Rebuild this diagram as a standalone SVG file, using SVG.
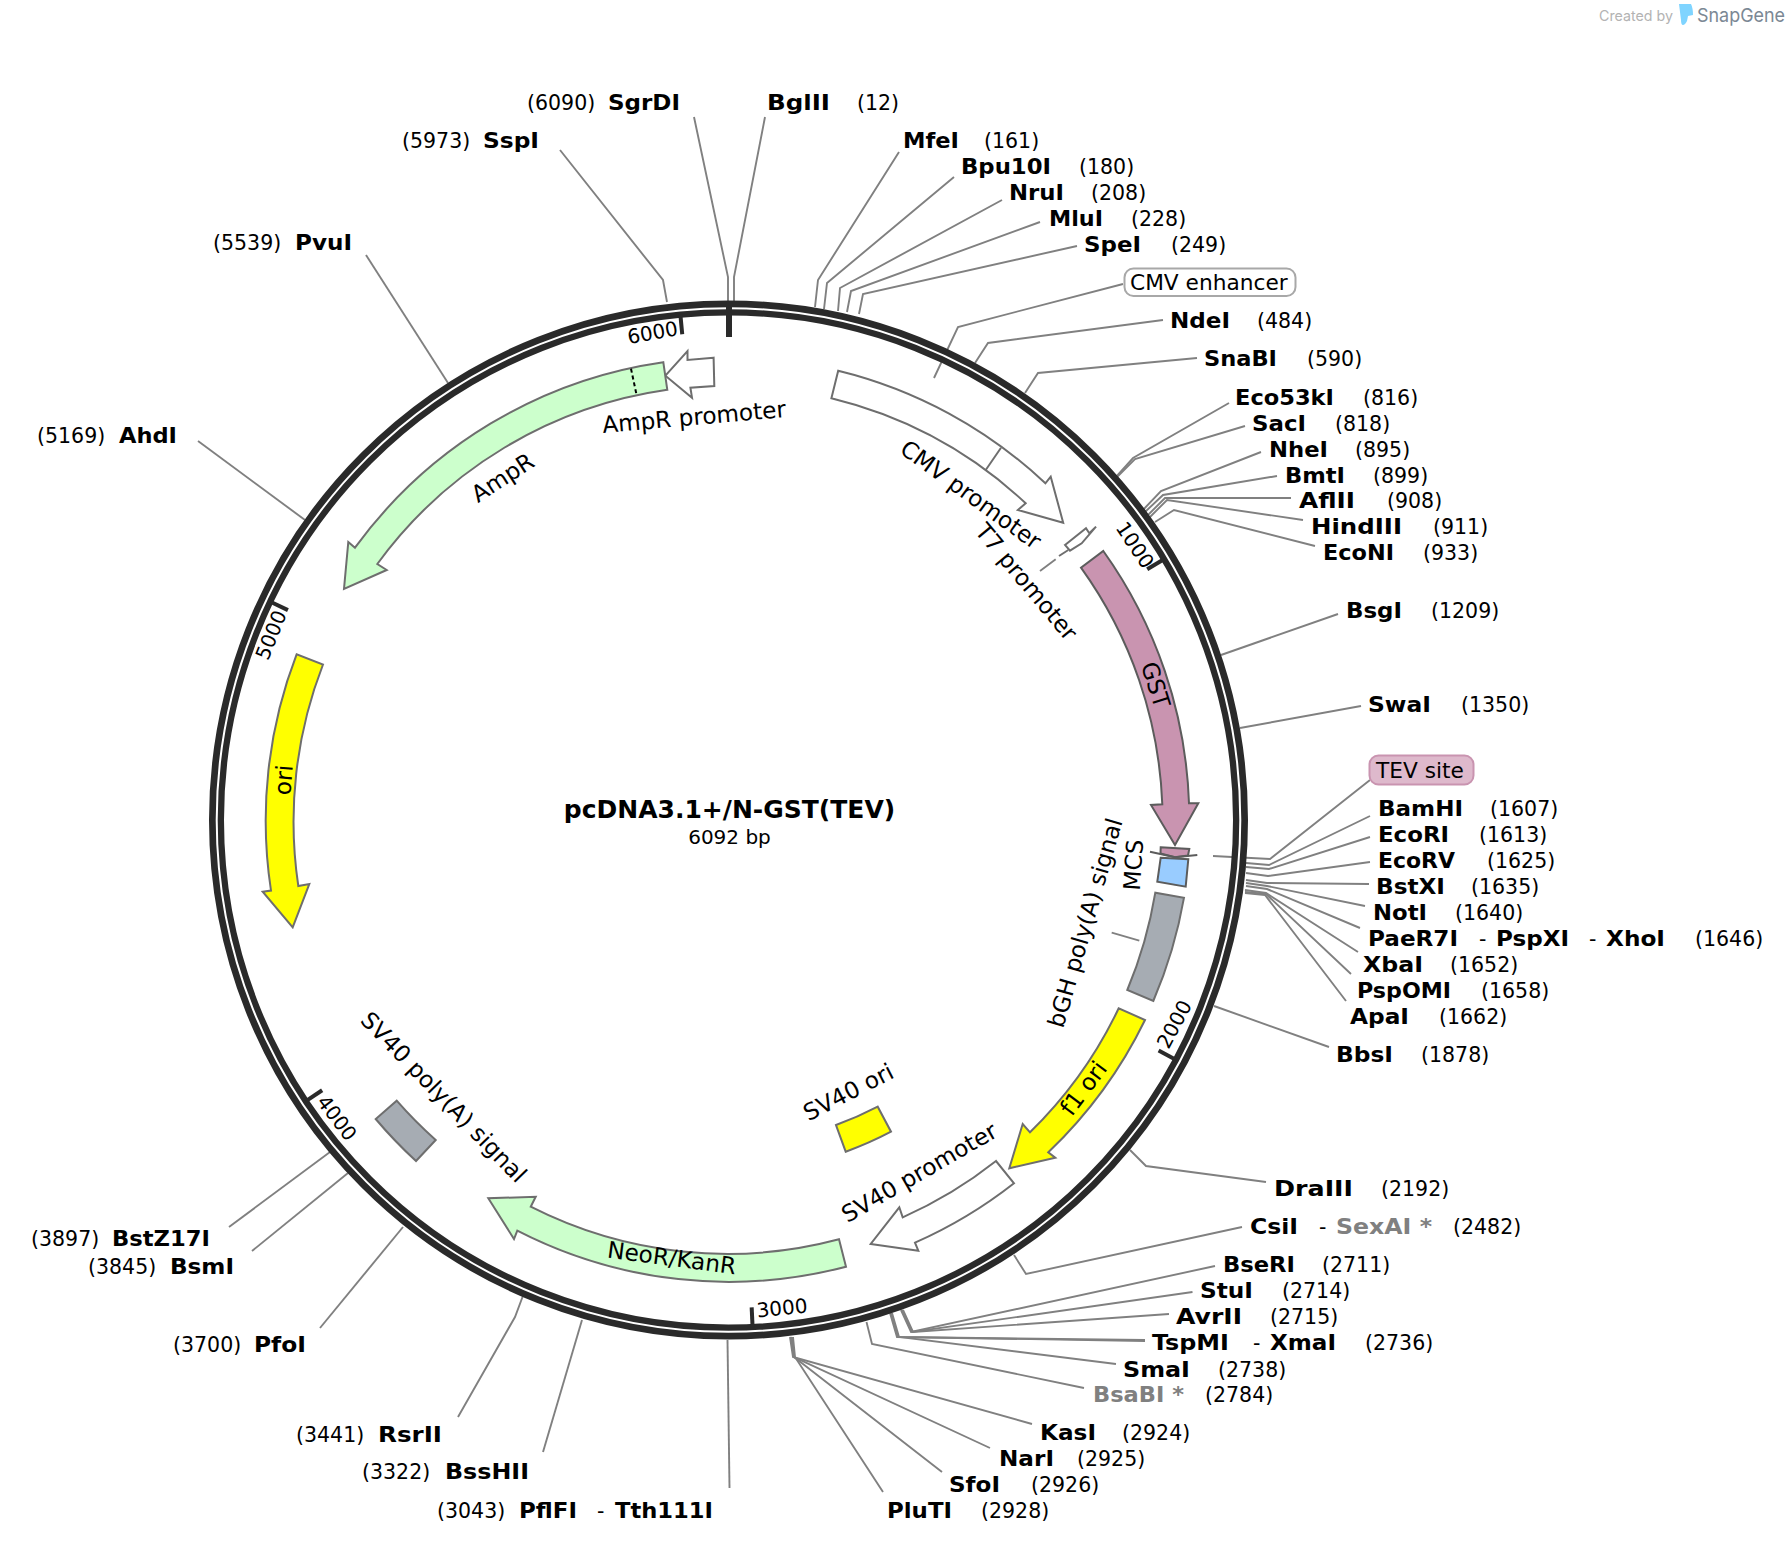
<svg xmlns="http://www.w3.org/2000/svg" width="1792" height="1544" viewBox="0 0 1792 1544">
<style>
text{font-family:"DejaVu Sans","Liberation Sans",sans-serif;fill:#000}
.e{font-weight:700;font-size:21.5px}
.g{fill:#808080}
.p{font-size:20.5px}
.f{font-size:23.2px;text-anchor:middle}
.b{font-size:21.7px}
.t{font-size:20px;text-anchor:middle}
.c polyline,.c line{fill:none;stroke:#808080;stroke-width:1.9}
.s{stroke:#6e6e6e;stroke-width:2;stroke-linejoin:miter}
.d{stroke:#5c5c5c}
.k{stroke:#2a2a2a;fill:none}
</style>
<rect width="1792" height="1544" fill="#fff"/>
<g id="connectors" class="c">
<polyline points="694,117 728,277 728,302"/>
<polyline points="765,117 734,277 734,302"/>
<polyline points="560,150 663,280 667,302"/>
<line x1="366" y1="255" x2="448" y2="383"/>
<line x1="198" y1="441" x2="305" y2="520"/>
<polyline points="899,152 818,280 815,307"/>
<polyline points="954,177 827,283 824,309"/>
<polyline points="1002,200 840,288 838,311"/>
<polyline points="1040,222 851,291 847,312"/>
<polyline points="1077,246 863,294 859,314"/>
<polyline points="1123,284 958,327 934,378"/>
<polyline points="1163,320 988,343 975,363"/>
<polyline points="1197,358 1038,373 1025,393"/>
<polyline points="1229,403 1133,458 1116,477"/>
<polyline points="1245,426 1135,459 1117,477"/>
<polyline points="1261,452 1161,491 1143,510"/>
<polyline points="1277,476 1163,495 1145,512"/>
<polyline points="1291,498 1165,498 1147,516"/>
<polyline points="1303,520 1167,500 1149,518"/>
<polyline points="1315,546 1174,510 1155,522"/>
<line x1="1338" y1="614" x2="1221" y2="655"/>
<line x1="1361" y1="706" x2="1240" y2="728"/>
<polyline points="1370,780 1270,859 1213,856"/>
<polyline points="1370,816 1269,865 1246,863"/>
<polyline points="1370,837 1269,869 1246,867"/>
<polyline points="1370,862 1268,876 1246,873"/>
<polyline points="1369,884 1267,883 1246,880"/>
<polyline points="1365,906 1267,886 1246,883"/>
<polyline points="1360,928 1267,889 1246,886"/>
<polyline points="1358,952 1266,893 1245,890"/>
<polyline points="1351,974 1266,894 1245,892"/>
<polyline points="1346,1001 1265,895 1245,893"/>
<line x1="1329" y1="1047" x2="1214" y2="1006"/>
<polyline points="1266,1182 1146,1166 1130,1150"/>
<polyline points="1242,1227 1026,1274 1014,1255"/>
<polyline points="1215,1266 911,1332 901,1310"/>
<polyline points="1192.5,1292 912,1332 902,1310"/>
<polyline points="1169,1314 913,1332 903,1310"/>
<polyline points="1145,1340 897,1337 890,1313"/>
<polyline points="1145,1341 898,1337 891,1313"/>
<polyline points="1116,1364 899,1337 892,1313"/>
<polyline points="1084,1388 872,1344 866.5,1322"/>
<polyline points="1032,1424 793,1357 790,1337"/>
<polyline points="990,1448 794,1357 791,1337"/>
<polyline points="942,1472 794,1357 792,1337"/>
<polyline points="883,1492 795,1357 793,1337"/>
<line x1="229" y1="1227" x2="330" y2="1152"/>
<line x1="252" y1="1251" x2="348" y2="1173"/>
<line x1="320" y1="1328" x2="403" y2="1227"/>
<polyline points="458,1417 515,1317 522.5,1297"/>
<line x1="543" y1="1452" x2="582" y2="1320"/>
<line x1="729.5" y1="1488" x2="727.5" y2="1340"/>
<line x1="1111.7" y1="932.7" x2="1139.3" y2="940.7"/>
<line x1="1055.7" y1="559.3" x2="1040" y2="571"/>
</g>

<g id="backbone">
<circle class="k" cx="728.5" cy="820" r="512" stroke-width="15"/>
<circle cx="728.5" cy="820" r="511.8" fill="none" stroke="#fff" stroke-width="2"/>
<line class="k" x1="729" y1="306" x2="729" y2="337" stroke-width="6"/>
<g class="k" stroke-width="4">
<line x1="728.5" y1="312" x2="728.5" y2="332" transform="rotate(-5.44 728.5 820)"/>
<line x1="728.5" y1="312" x2="728.5" y2="332" transform="rotate(59.09 728.5 820)"/>
<line x1="728.5" y1="312" x2="728.5" y2="332" transform="rotate(118.19 728.5 820)"/>
<line x1="728.5" y1="312" x2="728.5" y2="332" transform="rotate(177.28 728.5 820)"/>
<line x1="728.5" y1="312" x2="728.5" y2="332" transform="rotate(236.37 728.5 820)"/>
<line x1="728.5" y1="312" x2="728.5" y2="332" transform="rotate(295.47 728.5 820)"/>
</g>
<text class="t" transform="translate(652.6 332.6) rotate(-10)" y="7">6000</text>
<text class="t" transform="translate(1135 545) rotate(56)" y="7">1000</text>
<text class="t" transform="translate(1174.3 1024.3) rotate(-62)" y="7">2000</text>
<text class="t" transform="translate(782 1308) rotate(-6)" y="7">3000</text>
<text class="t" transform="translate(337 1118) rotate(53)" y="7">4000</text>
<text class="t" transform="translate(271 635) rotate(-68)" y="7">5000</text>
</g>

<g id="title">
<text x="729.5" y="818" font-size="25" font-weight="700" text-anchor="middle">pcDNA3.1+/N-GST(TEV)</text>
<text x="729.5" y="844" font-size="20" text-anchor="middle">6092 bp</text>
</g>

<g id="feature-AmpR-promoter">
<path class="s" fill="#fff" d="M713.6,357.7 L687.5,360 L687.5,351 L665.4,375.7 L692,397.7 L690.4,387.7 L714.3,386 Z"/>
<text class="f" transform="translate(694 417.5) rotate(-5)" y="7.5">AmpR promoter</text>
</g>
<g id="feature-AmpR">
<path class="s" fill="#ccffcc" d="M663.3,362.2 A462.3,462.3 0 0 0 355,547.7 L348.3,542 L344,589 L386.7,570 L377.3,564 A434.5,434.5 0 0 1 667.3,389.8 Z"/>
<line x1="631" y1="368.7" x2="636.7" y2="395.6" stroke="#000" stroke-width="2" stroke-dasharray="4 3"/>
<text class="f" transform="translate(503 478) rotate(-33)" y="7.5">AmpR</text>
</g>
<g id="feature-ori">
<path class="s" fill="#ffff00" d="M296.7,654.2 A462.3,462.3 0 0 0 271,890.6 L262.7,891.7 L292.7,927.4 L309.3,884 L298.3,886 A434.5,434.5 0 0 1 323,664.5 Z"/>
<text class="f" transform="translate(284 780) rotate(-85)" y="7.5">ori</text>
</g>
<g id="feature-CMV-promoter">
<path class="s" fill="#fff" d="M838.2,370.7 A462.3,462.3 0 0 1 1045.4,483.3 L1050.7,476.7 L1063.2,522.7 L1017.9,510 L1025.7,503.3 A434.5,434.5 0 0 0 831.4,398.3 Z"/>
<line class="s" x1="1001" y1="447.7" x2="985.7" y2="470"/>
<text class="f" transform="translate(970.5 495) rotate(36)" y="7.5">CMV promoter</text>
</g>
<g id="feature-T7-promoter">
<path class="s" fill="#fff" d="M1065,545 L1086,528.3 L1089.3,533.3 L1096,526.7 L1081.7,543.3 L1070,550.7 Z"/>
<line class="s" x1="1059" y1="556" x2="1068.3" y2="550"/>
<text class="f" transform="translate(1026 582) rotate(50)" y="7.5">T7 promoter</text>
</g>
<g id="feature-GST">
<path class="s d" fill="#c994b0" d="M1103.3,551 A461.5,461.5 0 0 1 1189,803.3 L1198.3,803.3 L1175,845 L1151,805 L1162.3,804.3 A434,434 0 0 0 1081,567.7 Z"/>
<text class="f" transform="translate(1155 685) rotate(72.5)" y="7.5">GST</text>
</g>
<g id="feature-TEV-site">
<path class="s d" fill="#c994b0" d="M1160.7,847.3 L1189.3,849 L1188,855.5 L1175,857.3 L1160.5,853.5 Z"/>
<polyline class="s d" fill="none" points="1150,851.7 1175,857.3 1197.3,855"/>
<rect x="1369.5" y="755.5" width="104" height="29" rx="9" fill="#deb9cc" stroke="#c994b0" stroke-width="2"/>
<text class="b" x="1376" y="778">TEV site</text>
</g>
<g id="feature-MCS">
<path class="s d" fill="#99ccff" d="M1160.7,857.7 L1188.3,859.3 L1185.7,886.7 L1157.3,881.7 Z"/>
<text class="f" transform="translate(1134 865) rotate(-86)" y="7.5">MCS</text>
</g>
<g id="feature-bGH-polyA">
<path class="s" fill="#a6acb3" d="M1184,897.7 A462,462 0 0 1 1153.3,1001 L1127.3,990 A434,434 0 0 0 1155.3,892.7 Z"/>
<text class="f" transform="translate(1085.7 923) rotate(-74)" y="7.5">bGH poly(A) signal</text>
</g>
<g id="feature-f1-ori">
<path class="s" fill="#ffff00" d="M1145,1020 A462,462 0 0 1 1048.3,1152.3 L1055.3,1157.7 L1009.3,1168.3 L1022.7,1124 L1030,1132.3 A434,434 0 0 0 1118.7,1008.3 Z"/>
<text class="f" transform="translate(1084 1088.5) rotate(-53)" y="7.5">f1 ori</text>
</g>
<g id="feature-SV40-promoter">
<path class="s" fill="#fff" d="M1014,1183.3 A462,462 0 0 1 915,1242.7 L918.3,1250.7 L870.7,1244 L899.3,1207.3 L902.7,1217.3 A434,434 0 0 0 996,1161 Z"/>
<text class="f" transform="translate(919.5 1173) rotate(-30)" y="7.5">SV40 promoter</text>
</g>
<g id="feature-SV40-ori">
<path class="s" fill="#ffff00" d="M836,1125 A323,323 0 0 0 877.7,1106.7 L891,1131.7 A351.6,351.6 0 0 1 845.7,1151.7 Z"/>
<text class="f" transform="translate(848.6 1092.6) rotate(-27)" y="7.5">SV40 ori</text>
</g>
<g id="feature-NeoR-KanR">
<path class="s" fill="#ccffcc" d="M846,1266.7 A462,462 0 0 1 517.3,1230.7 L514,1239 L488.3,1198.3 L535.7,1196.7 L530.7,1206.7 A434,434 0 0 0 839,1239.3 Z"/>
<text class="f" transform="translate(671.7 1258.5) rotate(7.5)" y="7.5">NeoR/KanR</text>
</g>
<g id="feature-SV40-polyA">
<path class="s" fill="#a6acb3" d="M396.7,1100.7 A434.5,434.5 0 0 0 435.7,1140 L416,1161 A462.3,462.3 0 0 1 375.7,1119 Z"/>
<text class="f" transform="translate(443.4 1097.4) rotate(46)" y="7.5">SV40 poly(A) signal</text>
</g>
<g id="feature-CMV-enhancer">
<rect x="1124.5" y="268.5" width="171" height="27.5" rx="9" fill="#fff" stroke="#a8a8a8" stroke-width="2"/>
<text class="b" x="1130" y="290">CMV enhancer</text>
</g>

<g id="site-SgrDI"><text class="p" x="527" y="110">(6090)</text><text class="e" x="608" y="110" textLength="72" lengthAdjust="spacingAndGlyphs">SgrDI</text></g>
<g id="site-BglII"><text class="e" x="767" y="110" textLength="63" lengthAdjust="spacingAndGlyphs">BglII</text><text class="p" x="857" y="110">(12)</text></g>
<g id="site-SspI"><text class="p" x="402" y="148">(5973)</text><text class="e" x="483" y="148" textLength="56" lengthAdjust="spacingAndGlyphs">SspI</text></g>
<g id="site-PvuI"><text class="p" x="213" y="250">(5539)</text><text class="e" x="295" y="250" textLength="57" lengthAdjust="spacingAndGlyphs">PvuI</text></g>
<g id="site-AhdI"><text class="p" x="37" y="442.5">(5169)</text><text class="e" x="119" y="442.5" textLength="58" lengthAdjust="spacingAndGlyphs">AhdI</text></g>
<g id="site-MfeI"><text class="e" x="903" y="148" textLength="56" lengthAdjust="spacingAndGlyphs">MfeI</text><text class="p" x="984" y="148">(161)</text></g>
<g id="site-Bpu10I"><text class="e" x="961" y="174" textLength="90" lengthAdjust="spacingAndGlyphs">Bpu10I</text><text class="p" x="1079" y="174">(180)</text></g>
<g id="site-NruI"><text class="e" x="1009" y="200" textLength="55" lengthAdjust="spacingAndGlyphs">NruI</text><text class="p" x="1091" y="200">(208)</text></g>
<g id="site-MluI"><text class="e" x="1049" y="226" textLength="54" lengthAdjust="spacingAndGlyphs">MluI</text><text class="p" x="1131" y="226">(228)</text></g>
<g id="site-SpeI"><text class="e" x="1084" y="252" textLength="57" lengthAdjust="spacingAndGlyphs">SpeI</text><text class="p" x="1171" y="252">(249)</text></g>
<g id="site-NdeI"><text class="e" x="1170" y="328" textLength="60" lengthAdjust="spacingAndGlyphs">NdeI</text><text class="p" x="1257" y="328">(484)</text></g>
<g id="site-SnaBI"><text class="e" x="1204" y="366" textLength="73" lengthAdjust="spacingAndGlyphs">SnaBI</text><text class="p" x="1307" y="366">(590)</text></g>
<g id="site-Eco53kI"><text class="e" x="1235" y="404.5" textLength="99" lengthAdjust="spacingAndGlyphs">Eco53kI</text><text class="p" x="1363" y="404.5">(816)</text></g>
<g id="site-SacI"><text class="e" x="1252" y="430.5" textLength="54" lengthAdjust="spacingAndGlyphs">SacI</text><text class="p" x="1335" y="430.5">(818)</text></g>
<g id="site-NheI"><text class="e" x="1269" y="456.5" textLength="59" lengthAdjust="spacingAndGlyphs">NheI</text><text class="p" x="1355" y="456.5">(895)</text></g>
<g id="site-BmtI"><text class="e" x="1285" y="482.5" textLength="60" lengthAdjust="spacingAndGlyphs">BmtI</text><text class="p" x="1373" y="482.5">(899)</text></g>
<g id="site-AflII"><text class="e" x="1299" y="508" textLength="56" lengthAdjust="spacingAndGlyphs">AflII</text><text class="p" x="1387" y="508">(908)</text></g>
<g id="site-HindIII"><text class="e" x="1311" y="534" textLength="91" lengthAdjust="spacingAndGlyphs">HindIII</text><text class="p" x="1433" y="534">(911)</text></g>
<g id="site-EcoNI"><text class="e" x="1323" y="560" textLength="71" lengthAdjust="spacingAndGlyphs">EcoNI</text><text class="p" x="1423" y="560">(933)</text></g>
<g id="site-BsgI"><text class="e" x="1346" y="618" textLength="56" lengthAdjust="spacingAndGlyphs">BsgI</text><text class="p" x="1431" y="618">(1209)</text></g>
<g id="site-SwaI"><text class="e" x="1368" y="711.5" textLength="63" lengthAdjust="spacingAndGlyphs">SwaI</text><text class="p" x="1461" y="711.5">(1350)</text></g>
<g id="site-BamHI"><text class="e" x="1378" y="816" textLength="85" lengthAdjust="spacingAndGlyphs">BamHI</text><text class="p" x="1490" y="816">(1607)</text></g>
<g id="site-EcoRI"><text class="e" x="1378" y="842" textLength="71" lengthAdjust="spacingAndGlyphs">EcoRI</text><text class="p" x="1479" y="842">(1613)</text></g>
<g id="site-EcoRV"><text class="e" x="1378" y="868" textLength="77" lengthAdjust="spacingAndGlyphs">EcoRV</text><text class="p" x="1487" y="868">(1625)</text></g>
<g id="site-BstXI"><text class="e" x="1376" y="894" textLength="69" lengthAdjust="spacingAndGlyphs">BstXI</text><text class="p" x="1471" y="894">(1635)</text></g>
<g id="site-NotI"><text class="e" x="1373" y="920" textLength="54" lengthAdjust="spacingAndGlyphs">NotI</text><text class="p" x="1455" y="920">(1640)</text></g>
<g id="site-PaeR7I-PspXI-XhoI"><text class="e" x="1368" y="946" textLength="90" lengthAdjust="spacingAndGlyphs">PaeR7I</text><text class="p" x="1479" y="946">-</text><text class="e" x="1496" y="946" textLength="73" lengthAdjust="spacingAndGlyphs">PspXI</text><text class="p" x="1589" y="946">-</text><text class="e" x="1606" y="946" textLength="59" lengthAdjust="spacingAndGlyphs">XhoI</text><text class="p" x="1695" y="946">(1646)</text></g>
<g id="site-XbaI"><text class="e" x="1363" y="972" textLength="60" lengthAdjust="spacingAndGlyphs">XbaI</text><text class="p" x="1450" y="972">(1652)</text></g>
<g id="site-PspOMI"><text class="e" x="1357" y="998" textLength="94" lengthAdjust="spacingAndGlyphs">PspOMI</text><text class="p" x="1481" y="998">(1658)</text></g>
<g id="site-ApaI"><text class="e" x="1350" y="1024" textLength="59" lengthAdjust="spacingAndGlyphs">ApaI</text><text class="p" x="1439" y="1024">(1662)</text></g>
<g id="site-BbsI"><text class="e" x="1336" y="1062" textLength="57" lengthAdjust="spacingAndGlyphs">BbsI</text><text class="p" x="1421" y="1062">(1878)</text></g>
<g id="site-DraIII"><text class="e" x="1274" y="1196" textLength="79" lengthAdjust="spacingAndGlyphs">DraIII</text><text class="p" x="1381" y="1196">(2192)</text></g>
<g id="site-CsiI-SexAI"><text class="e" x="1250" y="1234" textLength="48" lengthAdjust="spacingAndGlyphs">CsiI</text><text class="p" x="1319" y="1234">-</text><text class="e g" x="1336" y="1234" textLength="96" lengthAdjust="spacingAndGlyphs">SexAI *</text><text class="p" x="1453" y="1234">(2482)</text></g>
<g id="site-BseRI"><text class="e" x="1223" y="1271.5" textLength="72" lengthAdjust="spacingAndGlyphs">BseRI</text><text class="p" x="1322" y="1271.5">(2711)</text></g>
<g id="site-StuI"><text class="e" x="1200" y="1298" textLength="53" lengthAdjust="spacingAndGlyphs">StuI</text><text class="p" x="1282" y="1298">(2714)</text></g>
<g id="site-AvrII"><text class="e" x="1176" y="1324" textLength="66" lengthAdjust="spacingAndGlyphs">AvrII</text><text class="p" x="1270" y="1324">(2715)</text></g>
<g id="site-TspMI-XmaI"><text class="e" x="1152" y="1350" textLength="77" lengthAdjust="spacingAndGlyphs">TspMI</text><text class="p" x="1253" y="1350">-</text><text class="e" x="1270" y="1350" textLength="66" lengthAdjust="spacingAndGlyphs">XmaI</text><text class="p" x="1365" y="1350">(2736)</text></g>
<g id="site-SmaI"><text class="e" x="1123" y="1376.5" textLength="67" lengthAdjust="spacingAndGlyphs">SmaI</text><text class="p" x="1218" y="1376.5">(2738)</text></g>
<g id="site-BsaBI"><text class="e g" x="1093" y="1402" textLength="91" lengthAdjust="spacingAndGlyphs">BsaBI *</text><text class="p" x="1205" y="1402">(2784)</text></g>
<g id="site-KasI"><text class="e" x="1040" y="1440" textLength="56" lengthAdjust="spacingAndGlyphs">KasI</text><text class="p" x="1122" y="1440">(2924)</text></g>
<g id="site-NarI"><text class="e" x="999" y="1466" textLength="55" lengthAdjust="spacingAndGlyphs">NarI</text><text class="p" x="1077" y="1466">(2925)</text></g>
<g id="site-SfoI"><text class="e" x="949" y="1492" textLength="51" lengthAdjust="spacingAndGlyphs">SfoI</text><text class="p" x="1031" y="1492">(2926)</text></g>
<g id="site-PluTI"><text class="e" x="887" y="1518" textLength="65" lengthAdjust="spacingAndGlyphs">PluTI</text><text class="p" x="981" y="1518">(2928)</text></g>
<g id="site-PflFI-Tth111I"><text class="p" x="437" y="1518">(3043)</text><text class="e" x="519" y="1518" textLength="58" lengthAdjust="spacingAndGlyphs">PflFI</text><text class="p" x="597" y="1518">-</text><text class="e" x="615" y="1518" textLength="98" lengthAdjust="spacingAndGlyphs">Tth111I</text></g>
<g id="site-BssHII"><text class="p" x="362" y="1479">(3322)</text><text class="e" x="445" y="1479" textLength="84" lengthAdjust="spacingAndGlyphs">BssHII</text></g>
<g id="site-RsrII"><text class="p" x="296" y="1442">(3441)</text><text class="e" x="378" y="1442" textLength="64" lengthAdjust="spacingAndGlyphs">RsrII</text></g>
<g id="site-PfoI"><text class="p" x="173" y="1352">(3700)</text><text class="e" x="254" y="1352" textLength="52" lengthAdjust="spacingAndGlyphs">PfoI</text></g>
<g id="site-BsmI"><text class="p" x="88" y="1274">(3845)</text><text class="e" x="170" y="1274" textLength="64" lengthAdjust="spacingAndGlyphs">BsmI</text></g>
<g id="site-BstZ17I"><text class="p" x="31" y="1246">(3897)</text><text class="e" x="112" y="1246" textLength="98" lengthAdjust="spacingAndGlyphs">BstZ17I</text></g>

<g id="snapgene-credit">
<text x="1599" y="21" font-size="14.5" textLength="74" lengthAdjust="spacingAndGlyphs" style="font-family:Inter,'Liberation Sans',sans-serif;fill:#b3b3b3">Created by</text>
<path d="M1679,4 L1691,4 Q1693,8 1693,15 L1688,16 L1687,21 Q1685,25 1683,25 Q1681,25 1681,20 Z" fill="#7fd4ff"/>
<text x="1697" y="22" font-size="19" textLength="88" lengthAdjust="spacingAndGlyphs" style="font-family:Inter,'Liberation Sans',sans-serif;fill:#7b8894">SnapGene</text>
</g>
</svg>
